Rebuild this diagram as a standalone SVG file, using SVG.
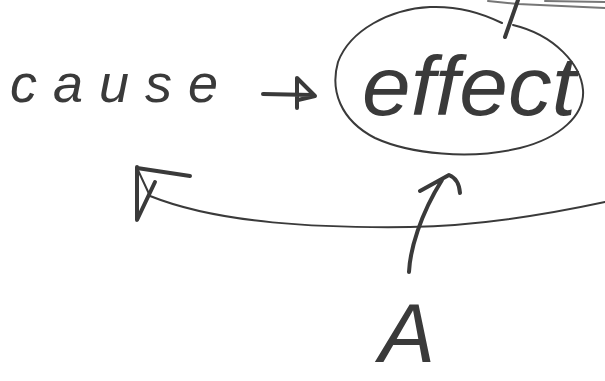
<svg xmlns="http://www.w3.org/2000/svg" width="605" height="381" viewBox="0 0 605 381">
<style>
.bg{fill:#ffffff}
.lbl{font-family:"Liberation Sans","DejaVu Sans",sans-serif;font-style:italic;fill:#3a3a3a}
.pen{fill:none;stroke:#3a3a3a;stroke-linecap:round;stroke-linejoin:round}
.thin{stroke-width:2}
.thick{stroke-width:4}
.faint{fill:none;stroke:#777;stroke-width:2;stroke-linecap:round}
</style>
<rect class="bg" x="0" y="0" width="605" height="381"/>
<g id="node-cause">
<text class="lbl" x="10" y="102" font-size="54" textLength="208" lengthAdjust="spacing">cause</text>
</g>
<g id="node-effect">
<path class="pen thin" d="M502,23 C480,12 455,6 430,7 C390,9 350,30 338,62 C330,90 340,120 375,138 C410,154 470,160 520,148 C560,138 585,115 583,90 C581,65 555,35 513,25"/>
<text class="lbl" x="362" y="115" font-size="84" textLength="214" lengthAdjust="spacingAndGlyphs">effect</text>
</g>
<g id="node-A">
<text class="lbl" x="407" y="362" font-size="84" text-anchor="middle" font-style="normal">A</text>
</g>
<g id="connectors">
<path class="pen thick" d="M263,94 L312,95 M297,78 L315,96 L298,100 M297,78 L297,108"/>
<path class="faint" d="M488,1 L518,4 L605,8 M545,1 L605,2"/>
<path class="pen thick" d="M518,0 L505,37"/>
<path class="pen thin" d="M605,202 C540,216 470,226 410,227 C320,228 220,224 150,196 L137,168"/>
<path class="pen thick" d="M137,167 L137,220 L155,182 M137,168 L190,176"/>
<path class="pen thick" d="M409,272 C410,250 420,215 442,180 M420,191 L449,175 Q459,179 460,193"/>
</g>
</svg>
